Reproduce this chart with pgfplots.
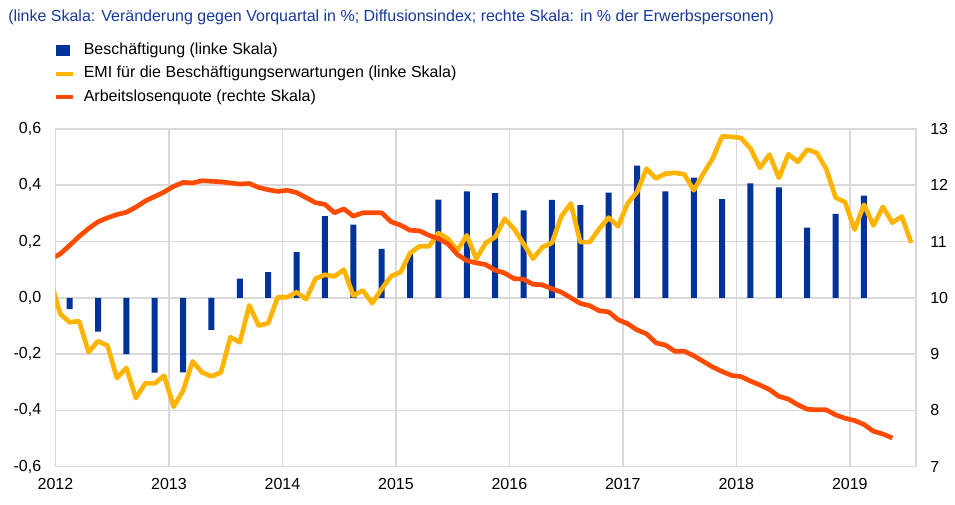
\documentclass[border=0pt]{standalone}
\usepackage{pgfplots}
\usepackage{pgfplotstable}
\usepackage{fontspec}
\setmainfont{Liberation Sans}
\pgfplotsset{compat=1.18}
\definecolor{ecbblue}{HTML}{003299}
\definecolor{ecbyellow}{HTML}{FFB400}
\definecolor{ecborange}{HTML}{FF4B00}
\definecolor{titleblue}{HTML}{17399C}
\definecolor{gridgray}{HTML}{D9D9D9}

\pgfplotstableread{
q v
0 -0.040
1 -0.120
2 -0.200
3 -0.266
4 -0.265
5 -0.114
6 0.068
7 0.091
8 0.162
9 0.290
10 0.260
11 0.174
12 0.157
13 0.349
14 0.378
15 0.372
16 0.311
17 0.348
18 0.329
19 0.374
20 0.470
21 0.378
22 0.427
23 0.351
24 0.407
25 0.392
26 0.249
27 0.298
28 0.363
}\bars

\pgfplotstableread{
m v
-1 0.060
0 -0.057
1 -0.087
2 -0.083
3 -0.193
4 -0.154
5 -0.170
6 -0.285
7 -0.249
8 -0.356
9 -0.304
10 -0.304
11 -0.277
12 -0.387
13 -0.330
14 -0.226
15 -0.265
16 -0.279
17 -0.265
18 -0.140
19 -0.158
20 -0.027
21 -0.099
22 -0.090
23 0.002
24 0.002
25 0.020
26 -0.005
27 0.068
28 0.082
29 0.076
30 0.100
31 0.008
32 0.026
33 -0.019
34 0.032
35 0.077
36 0.091
37 0.159
38 0.183
39 0.183
40 0.230
41 0.210
42 0.168
43 0.222
44 0.139
45 0.195
46 0.216
47 0.281
48 0.245
49 0.192
50 0.139
51 0.180
52 0.195
53 0.290
54 0.335
55 0.198
56 0.198
57 0.245
58 0.285
59 0.254
60 0.335
61 0.376
62 0.459
63 0.424
64 0.441
65 0.444
66 0.439
67 0.382
68 0.441
69 0.495
70 0.574
71 0.572
72 0.568
73 0.530
74 0.462
75 0.509
76 0.426
77 0.510
78 0.483
79 0.527
80 0.515
81 0.459
82 0.356
83 0.340
84 0.242
85 0.331
86 0.257
87 0.323
88 0.267
89 0.289
90 0.195
}\emi

\pgfplotstableread{
m v
-1 10.69
0 10.78
1 10.93
2 11.09
3 11.23
4 11.35
5 11.42
6 11.48
7 11.52
8 11.61
9 11.72
10 11.80
11 11.88
12 11.98
13 12.05
14 12.04
15 12.08
16 12.07
17 12.06
18 12.04
19 12.02
20 12.03
21 11.96
22 11.92
23 11.89
24 11.91
25 11.87
26 11.78
27 11.69
28 11.66
29 11.51
30 11.58
31 11.45
32 11.51
33 11.51
34 11.51
35 11.35
36 11.29
37 11.20
38 11.19
39 11.11
40 11.05
41 10.96
42 10.77
43 10.66
44 10.62
45 10.59
46 10.49
47 10.44
48 10.34
49 10.33
50 10.24
51 10.23
52 10.16
53 10.10
54 10.00
55 9.90
56 9.86
57 9.77
58 9.75
59 9.61
60 9.54
61 9.43
62 9.36
63 9.20
64 9.16
65 9.05
66 9.05
67 8.97
68 8.87
69 8.77
70 8.69
71 8.62
72 8.60
73 8.52
74 8.45
75 8.37
76 8.25
77 8.20
78 8.10
79 8.02
80 8.01
81 8.01
82 7.92
83 7.86
84 7.82
85 7.75
86 7.63
87 7.58
88 7.51
}\unemp

\begin{document}
\begin{tikzpicture}
\useasboundingbox (0,0) rectangle (716.25pt,378pt);
\node[anchor=west, inner sep=0pt, text=titleblue, font=\fontsize{12}{14}\selectfont] at (6pt,365.25pt)
  {(linke Skala: Veränderung gegen Vorquartal in \%; Diffusionsindex; rechte Skala: in \% der Erwerbspersonen)};
\begin{axis}[
  at={(41.6pt,28pt)}, anchor=south west,
  scale only axis, width=645.4pt, height=253.3pt,
  xmin=2012, xmax=2019.5833, ymin=-0.6, ymax=0.6,
  enlargelimits=false,
  xtick={2012,2013,2014,2015,2016,2017,2018,2019},
  xticklabels={2012,2013,2014,2015,2016,2017,2018,2019},
  ytick={-0.6,-0.4,-0.2,0,0.2,0.4,0.6},
  major tick length=0pt,
  grid=major,
  grid style={gridgray, line width=1.1pt},
  axis line style={gridgray, line width=1.1pt},
  tick label style={font=\fontsize{12}{14}\selectfont, inner sep=0pt},
  /pgf/number format/assume math mode=true,
  yticklabel style={/pgf/number format/.cd, fixed, fixed zerofill, precision=1, use comma},
  yticklabel shift=10.5pt,
  xticklabel shift=8.5pt,
  legend style={at={(rel axis cs:0,1.258)}, anchor=north west, draw=none, fill=none,
    inner sep=0pt, font=\fontsize{12}{14}\selectfont, row sep=5.6pt, column sep=7.9pt,
    cells={anchor=west}, nodes={inner sep=0pt, text height=9pt, text depth=3pt}},
  legend cell align=left,
]
\addplot[ybar, bar width=4.5pt, fill=ecbblue, draw=none, forget plot]
  table[x expr={2012.125+0.25*\thisrow{q}}, y=v] {\bars};
\addplot[ecbyellow, line width=3.5pt, line join=round, forget plot]
  table[x expr={2012+(\thisrow{m}+0.5)/12}, y=v] {\emi};
\addlegendimage{legend image code/.code={\fill[white, opacity=0] (0pt,-0.1pt) rectangle (12.75pt,0.1pt); \fill[ecbblue, draw=none] (0pt,-4.1pt) rectangle (10.5pt,4.1pt);}}
\addlegendentry{Beschäftigung (linke Skala)}
\addlegendimage{legend image code/.code={\fill[ecbyellow, draw=none] (0pt,-1.5pt) rectangle (12.75pt,1.5pt);}}
\addlegendentry{EMI für die Beschäftigungserwartungen (linke Skala)}
\addlegendimage{legend image code/.code={\fill[ecborange, draw=none] (0pt,-1.5pt) rectangle (12.75pt,1.5pt);}}
\addlegendentry{Arbeitslosenquote (rechte Skala)}
\end{axis}
\begin{axis}[
  at={(41.6pt,28pt)}, anchor=south west,
  scale only axis, width=645.4pt, height=253.3pt,
  xmin=2012, xmax=2019.5833, ymin=7, ymax=13,
  enlargelimits=false,
  axis x line=none, axis y line*=right,
  axis line style={draw=none},
  ytick={7,8,9,10,11,12,13},
  major tick length=0pt,
  tick label style={font=\fontsize{12}{14}\selectfont, inner sep=0pt},
  /pgf/number format/assume math mode=true,
  yticklabel shift=10.5pt,
]
\addplot[ecborange, line width=3.5pt, line join=round]
  table[x expr={2012+(\thisrow{m}+0.5)/12}, y=v] {\unemp};
\end{axis}
\end{tikzpicture}
\end{document}
